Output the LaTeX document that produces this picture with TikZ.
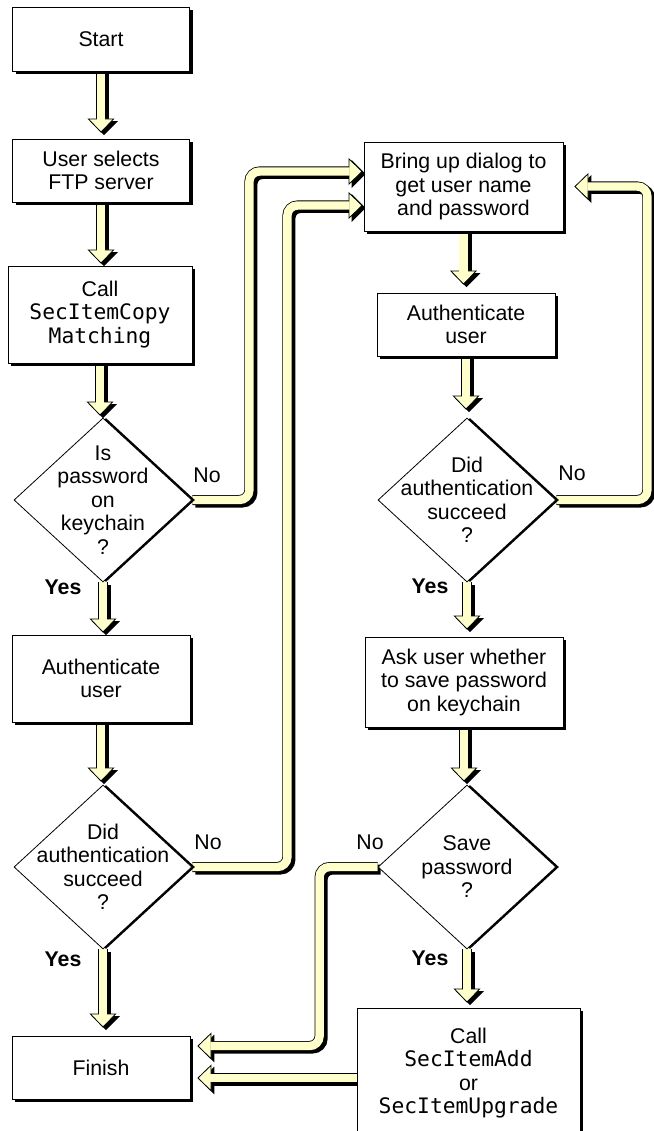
\documentclass[tikz,border=0pt]{standalone}
\usepackage{fontspec}
\setmainfont{Liberation Sans}
\setmonofont{DejaVu Sans Mono}
\usetikzlibrary{arrows.meta}
\usetikzlibrary{shapes.geometric}
\usetikzlibrary{shadows}
\usetikzlibrary{backgrounds}
\usetikzlibrary{calc}
\definecolor{pale}{RGB}{255,255,204}
\newcommand{\api}[1]{{\ttfamily #1}}

\begin{document}
\begin{tikzpicture}[x=1pt,y=-1pt,
		txt/.style={font=\fontsize{21.3}{23.5}\selectfont, align=center},
		process/.style={txt, draw, line width=0.8pt, fill=white, inner sep=0pt,
			drop shadow={shadow xshift=3pt, shadow yshift=-3pt, opacity=1, fill=black}},
		decision/.style={txt, diamond, draw, line width=0.8pt, fill=white, inner sep=-30pt,
			minimum width=178pt, minimum height=164pt,
			drop shadow={shadow xshift=3pt, shadow yshift=0pt, opacity=1, fill=black}},
		tag/.style={font=\fontsize{21.3}{23.5}\selectfont},
		flow/.style={draw=black, line width=10pt, rounded corners=10pt, shorten >=#1,
			-{Triangle[width=27pt, length=14pt, line width=0.8pt, fill=pale]},
			preaction={draw=black, line width=10pt, shorten >=#1,
				-{Triangle[width=27pt, length=14pt]},
				transform canvas={shift={(3pt,-2.5pt)}}},
			postaction={draw=pale, line width=8.4pt, arrows=-, shorten >=#1+13pt}}
	]
	\useasboundingbox (0,0) rectangle (653,1131);
	% left column
	\node[process, minimum width=177pt, minimum height=64pt] (start) at (101,39) {Start};
	\node[process, minimum width=177pt, minimum height=63pt] (select) at (101,170.5) {User selects\\FTP server};
	\node[process, minimum width=184pt, minimum height=97pt] (copy) at (100,314.5) {Call\\\api{SecItemCopy}\\\api{Matching}};
	\node[decision] (haspw) at (103,500) {Is\\password\\on\\keychain\\?};
	\node[process, minimum width=178pt, minimum height=87pt] (auth) at (101,678.5) {Authenticate\\user};
	\node[decision] (okleft) at (103,867) {Did\\authentication\\succeed\\?};
	\node[process, minimum width=178pt, minimum height=63pt] (finish) at (101,1067.5) {Finish};
	% right column
	\node[process, minimum width=199pt, minimum height=89pt] (dialog) at (463.5,186.5) {Bring up dialog to\\get user name\\and password};
	\node[process, minimum width=178pt, minimum height=63pt] (authr) at (466,324.5) {Authenticate\\user};
	\node[decision] (okright) at (467,500) {Did\\authentication\\succeed\\?};
	\node[process, minimum width=198pt, minimum height=90pt] (askuser) at (464,682) {Ask user whether\\to save password\\on keychain};
	\node[decision] (save) at (467,867) {Save\\password\\?};
	\node[process, minimum width=223pt, minimum height=130pt] (store) at (468.5,1073) {Call\\\api{SecItemAdd}\\or\\\api{SecItemUpgrade}};
	% yes / no labels
	\node[tag] (no1) at (207,475) {No};
	\node[tag, font=\fontsize{21.3}{23.5}\selectfont\bfseries] (yes1) at (63,587) {Yes};
	\node[tag] (no2) at (208,842) {No};
	\node[tag, font=\fontsize{21.3}{23.5}\selectfont\bfseries] (yes2) at (63,959) {Yes};
	\node[tag] (no3) at (572,473) {No};
	\node[tag, font=\fontsize{21.3}{23.5}\selectfont\bfseries] (yes3) at (430,586) {Yes};
	\node[tag] (no4) at (370,842) {No};
	\node[tag, font=\fontsize{21.3}{23.5}\selectfont\bfseries] (yes4) at (430,958) {Yes};
	% arrows
	\begin{scope}[on background layer]
		\foreach \a/\b/\g in {start/select/6, select/copy/2, copy/haspw/2, haspw/auth/2,
				auth/okleft/3, okleft/finish/8, dialog/authr/8, authr/okright/8,
				okright/askuser/7, askuser/save/3, save/store/5}
			\draw[flow=\g pt] (\a.south) -- (\a.south |- \b.north);
		\draw[flow=1pt] (haspw.east) -- ++(57,0) |- ([yshift=15pt]dialog.west);
		\draw[flow=1pt] (okleft.east) -- ++(95,0) |- ([yshift=-19pt]dialog.west);
		\draw[flow=11pt] (okright.east) -- ++(91,0) |- (dialog.east);
		\draw[flow=7pt] (save.west) -- ++(-58,0) |- ([yshift=21.5pt]finish.east);
		\draw[flow=7pt] ([yshift=-5pt]store.west) -- ([yshift=-5pt]store.west -| finish.east);
	\end{scope}
\end{tikzpicture}
\end{document}
